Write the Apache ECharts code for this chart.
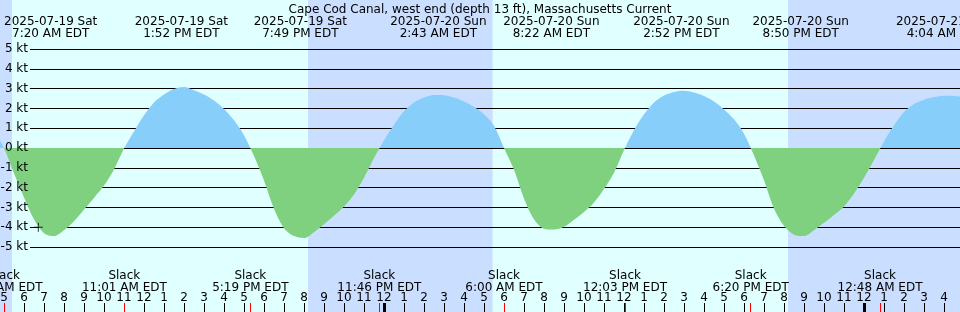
<!DOCTYPE html>
<html><head><meta charset="utf-8">
<script src="https://cdn.jsdelivr.net/npm/echarts@6/dist/echarts.min.js"></script>
<style>html,body{margin:0;padding:0;background:#e0ffff;overflow:hidden}#c{width:960px;height:312px}</style>
</head><body><div id="c"></div>
<script>
// Times are hours since 00:00 EDT, 2025-07-19
const titleText = 'Cape Cod Canal, west end (depth 13 ft), Massachusetts Current';
const flowStartHour = 4.5, flowStepHours = 0.5;   // one reading every half hour
const flowKt = [0.9, 0, -1.28, -2.5, -3.6, -4.3, -4.45, -4.15, -3.7, -3.1,
  -2.52, -1.9, -1.08, -0.03, 0.83, 1.65, 2.3, 2.7, 2.98, 3.08,
  2.92, 2.7, 2.4, 1.97, 1.4, 0.65, -0.41, -1.64, -3.07, -4.05,
  -4.45, -4.55, -4.25, -3.85, -3.42, -2.96, -2.35, -1.5, -0.5, 0.38,
  1.17, 1.85, 2.3, 2.55, 2.68, 2.67, 2.55, 2.35, 2.08, 1.7,
  1.12, 0, -1.1, -2.55, -3.6, -4.08, -4.12, -3.98, -3.62, -3.23,
  -2.75, -2.07, -1.25, -0.1, 0.9, 1.7, 2.3, 2.65, 2.83, 2.89,
  2.8, 2.62, 2.35, 1.95, 1.45, 0.72, -0.38, -1.63, -3.05, -3.93,
  -4.38, -4.45, -4.15, -3.78, -3.38, -2.95, -2.3, -1.5, -0.6, 0.33,
  1.15, 1.82, 2.22, 2.44, 2.57, 2.64, 2.63, 2.58];
const flowHours = flowKt.map((_, i) => flowStartHour + i * flowStepHours);
const eventHours = [7.333, 13.867, 19.817, 26.717, 32.367, 38.867, 44.833, 52.067];
const eventDates = ['2025-07-19 Sat', '2025-07-19 Sat', '2025-07-19 Sat', '2025-07-20 Sun',
  '2025-07-20 Sun', '2025-07-20 Sun', '2025-07-20 Sun', '2025-07-21 Mon'];
const eventClock = ['7:20 AM EDT', '1:52 PM EDT', '7:49 PM EDT', '2:43 AM EDT',
  '8:22 AM EDT', '2:52 PM EDT', '8:50 PM EDT', '4:04 AM EDT'];
const slackHours = [5.0, 11.017, 17.317, 23.767, 30.0, 36.05, 42.333, 48.8];
const slackClock = ['5:00 AM EDT', '11:01 AM EDT', '5:19 PM EDT', '11:46 PM EDT',
  '6:00 AM EDT', '12:03 PM EDT', '6:20 PM EDT', '12:48 AM EDT'];
const nightStart = [4.8, 20.2, 44.2];
const nightEnd = [5.4, 29.43, 52.8];
const hourTicks = Array.from({length: 48}, (_, i) => i + 5);
const midnightTicks = [24, 48];
const nowHour = 6.715, nowKt = -4.0;

const X0 = 4.8, X1 = 52.8;
const F = 'DejaVu Sans';
const dayColor = '#e0ffff', nightColor = '#cadeff';
const floodColor = '#87cefa', ebbColor = '#7fd07f';

function idxOf(arr, v) {
  let best = 0, d = Infinity;
  arr.forEach((a, i) => { const dd = Math.abs(a - v); if (dd < d) { d = dd; best = i; } });
  return best;
}
const txt = {fontFamily: F, fontSize: 12, color: '#000', lineHeight: 12};

const chart = echarts.init(document.getElementById('c'), null, {renderer: 'canvas'});
const baseX = {type: 'value', min: X0, max: X1};
const plotBox = {top: 49, height: 198, containLabel: false, outerBoundsMode: 'none'};
chart.setOption({
  backgroundColor: dayColor,
  animation: false,
  title: {text: titleText, left: 'center', top: -1,
    textStyle: {fontFamily: F, fontSize: 12, fontWeight: 'normal', color: '#000', lineHeight: 12}},
  grid: [
    Object.assign({left: 0, right: 0}, plotBox),
    Object.assign({left: 30, right: 0}, plotBox),
    {left: 0, right: 0, top: 0, bottom: 0, containLabel: false, outerBoundsMode: 'none'},
    Object.assign({left: 30, right: 0}, plotBox)
  ],
  xAxis: [
    Object.assign({gridIndex: 0, show: false}, baseX),
    Object.assign({gridIndex: 1, show: false}, baseX),
    Object.assign({gridIndex: 2, position: 'bottom', z: 1,
      axisLine: {show: false}, splitLine: {show: false},
      axisTick: {show: true, inside: true, length: 9, customValues: hourTicks, lineStyle: {color: '#000', width: 1}},
      axisLabel: Object.assign({inside: true, margin: 8, customValues: hourTicks,
        formatter: v => String(((Math.round(v) % 12) + 12) % 12 || 12)}, txt)}, baseX),
    Object.assign({gridIndex: 2, position: 'bottom', z: 2,
      axisLine: {show: false}, splitLine: {show: false},
      axisTick: {show: true, inside: true, length: 9, customValues: midnightTicks, lineStyle: {color: '#000', width: 3}},
      axisLabel: {show: false}}, baseX),
    Object.assign({gridIndex: 2, position: 'bottom', z: 3,
      axisLine: {show: false}, splitLine: {show: false},
      axisTick: {show: true, inside: true, length: 9, customValues: slackHours, lineStyle: {color: '#ff0000', width: 1}},
      axisLabel: Object.assign({inside: true, margin: 18, customValues: slackHours,
        formatter: v => 'Slack\n' + slackClock[idxOf(slackHours, v)]}, txt)}, baseX),
    Object.assign({gridIndex: 2, position: 'top', z: 3,
      axisLine: {show: false}, splitLine: {show: false}, axisTick: {show: false},
      axisLabel: Object.assign({inside: true, margin: 16, customValues: eventHours,
        formatter: v => { const i = idxOf(eventHours, v); return eventDates[i] + '\n' + eventClock[i]; }}, txt)}, baseX),
    Object.assign({gridIndex: 3, show: false}, baseX)
  ],
  yAxis: [
    {gridIndex: 0, type: 'value', min: -5, max: 5, show: false},
    {gridIndex: 1, type: 'value', min: -5, max: 5, interval: 1,
      axisLine: {show: false}, axisTick: {show: false}, axisLabel: {show: false},
      splitLine: {show: true, lineStyle: {color: '#000', width: 1}}},
    {gridIndex: 2, type: 'value', min: 0, max: 1, show: false},
    {gridIndex: 3, type: 'value', min: -5, max: 5, interval: 1, z: 10,
      axisLine: {show: false}, axisTick: {show: false}, splitLine: {show: false},
      axisLabel: Object.assign({margin: 2, formatter: '{value} kt'}, txt)}
  ],
  visualMap: {type: 'piecewise', show: false, seriesIndex: 0, dimension: 1,
    pieces: [{gte: -6, lt: 0, color: ebbColor}, {gte: 0, lte: 6, color: floodColor}]},
  series: [
    {type: 'line', xAxisIndex: 0, yAxisIndex: 0, z: 2,
      data: flowHours.map((h, i) => [h, flowKt[i]]),
      smooth: 0.3, symbol: 'none', lineStyle: {width: 0}, areaStyle: {opacity: 1}},
    {type: 'scatter', xAxisIndex: 0, yAxisIndex: 0, z: 5,
      data: [[nowHour, nowKt]], symbolSize: 9,
      symbol: 'path://M0,4h9v1h-9z M4,0h1v9h-1z', itemStyle: {color: '#000'}},
    {type: 'line', xAxisIndex: 2, yAxisIndex: 2, z: -1, silent: true,
      data: [[X0, 0]], symbol: 'none', lineStyle: {opacity: 0},
      markArea: {silent: true, z: -1, itemStyle: {color: nightColor, opacity: 1},
        data: nightStart.map((s, i) => [{xAxis: s, yAxis: 0}, {xAxis: nightEnd[i], yAxis: 1}])}}
  ]
});
</script>
</body></html>
